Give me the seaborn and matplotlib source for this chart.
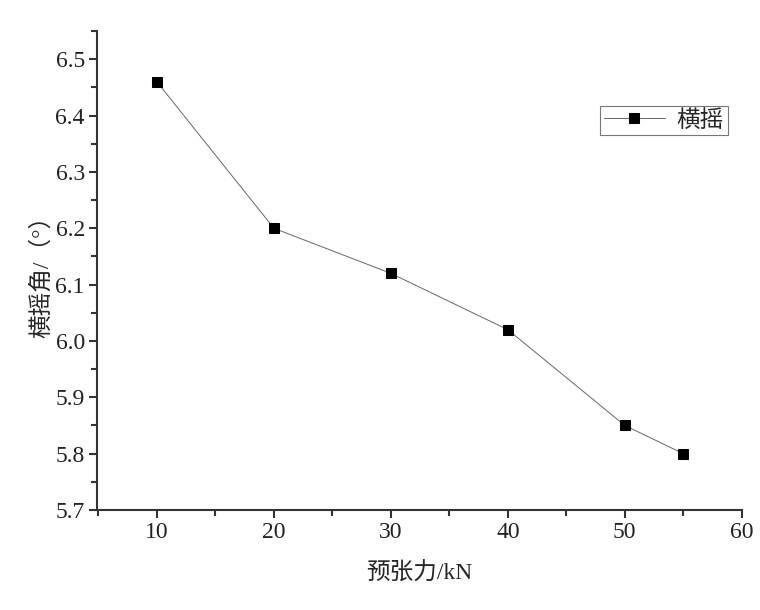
import matplotlib
matplotlib.use("Agg")
import matplotlib.pyplot as plt
import seaborn as sns
import pandas as pd
from matplotlib.ticker import MultipleLocator, AutoMinorLocator

# 数据
tension = [10, 20, 30, 40, 50, 55]
roll_angle = [6.46, 6.20, 6.12, 6.02, 5.85, 5.80]
series_name = "横摇"

df = pd.DataFrame({"预张力": tension, "横摇角": roll_angle, "类型": series_name})

sns.set_style("ticks")
plt.rcParams['font.family'] = ['Liberation Serif', 'Noto Sans CJK SC', 'DejaVu Sans']
plt.rcParams['axes.unicode_minus'] = False

fig = plt.figure(figsize=(7.6, 6.1), dpi=100)
ax = fig.add_axes([0.128, 0.164, 0.848, 0.785])

sns.lineplot(data=df, x="预张力", y="横摇角", hue="类型", palette=["black"],
             marker="s", markersize=7, markeredgecolor="black",
             linewidth=0.7, ax=ax)
for line in ax.lines:
    line.set_color("#666666")
    line.set_markerfacecolor("black")
    line.set_markeredgecolor("black")

ax.set_xlim(4.9, 60)
ax.set_ylim(5.7, 6.55)
ax.xaxis.set_major_locator(MultipleLocator(10))
ax.xaxis.set_minor_locator(AutoMinorLocator(2))
ax.yaxis.set_major_locator(MultipleLocator(0.1))
ax.yaxis.set_minor_locator(AutoMinorLocator(2))
ax.yaxis.set_major_formatter(plt.FuncFormatter(lambda v, p: f"{v:.1f}"))

for s in ["top", "right"]:
    ax.spines[s].set_visible(False)
for s in ["left", "bottom"]:
    ax.spines[s].set_linewidth(1.5)
    ax.spines[s].set_color("#333333")

ax.tick_params(which="major", direction="out", length=6, width=1.5,
               labelsize=17, colors="#333333", labelcolor="#222222", pad=3)
ax.tick_params(which="minor", direction="out", length=4, width=1.5, colors="#333333")

ax.set_xlabel("预张力/kN", fontsize=17, labelpad=14)
ax.set_ylabel("横摇角/（°）", fontsize=17, labelpad=2)

leg = ax.legend(loc="upper left", bbox_to_anchor=(0.78, 0.843), fontsize=17,
                frameon=True, fancybox=False, edgecolor="#555555",
                handlelength=2.6, borderpad=0.15, handletextpad=0.5,
                borderaxespad=0)
leg.get_frame().set_linewidth(0.8)
leg.set_title(None)

fig.savefig("out.png", dpi=100)
